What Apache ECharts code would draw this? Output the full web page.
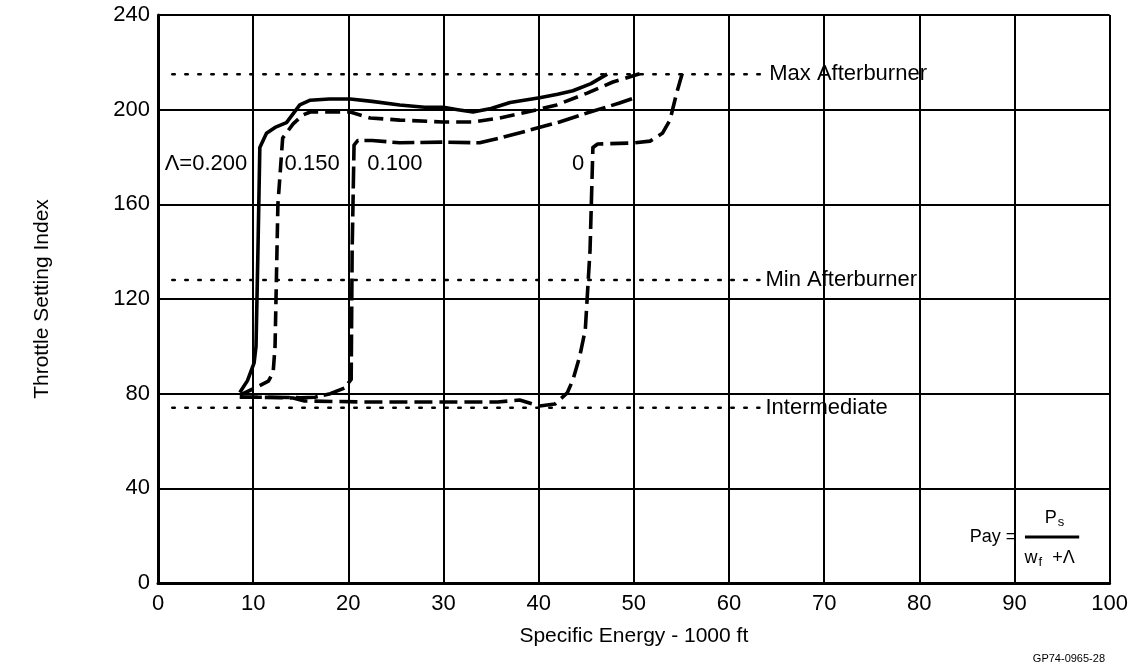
<!DOCTYPE html>
<html><head><meta charset="utf-8">
<script src="https://cdn.jsdelivr.net/npm/echarts@6/dist/echarts.min.js"></script>
<style>html,body{margin:0;padding:0;background:#fff}#c{width:1131px;height:666px}</style>
</head><body><div id="c"></div>
<script>
// ---- data ----
const xTickMin = 0, xTickMax = 100, xTickStep = 10;
const yTickMin = 0, yTickMax = 240, yTickStep = 40;

const lam200X = [8.6, 9.4, 10.1, 10.3, 10.5, 10.7, 11.4, 12.3, 13.5, 14.9, 16.0, 18.0, 20.2, 22.5, 25.4, 28.0, 30.0, 31.5, 33.1, 35.0, 37.0, 40.1, 42.0, 43.6, 45.5, 47.2];
const lam200Y = [80.5, 85.5, 93, 100, 140, 184, 190, 192.5, 194.5, 202, 204, 204.5, 204.5, 203.5, 202, 201, 201, 200, 199, 200.5, 203, 205, 206.5, 208, 211, 215];

const lam150X = [8.6, 10.2, 11.6, 12.1, 12.3, 12.6, 13.1, 14.2, 15.2, 16.0, 18.0, 20.2, 22.3, 25.4, 29.9, 33.1, 35.9, 38.8, 41.9, 45.1, 47.8, 50.9];
const lam150Y = [79.4, 82.4, 85.3, 89, 100, 160, 188, 194, 197.7, 199, 199, 199, 196.5, 195.6, 194.8, 194.8, 196.5, 199, 202, 207, 211.7, 215.5];

const lam100X = [8.6, 12.0, 15.0, 16.5, 18.1, 19.6, 20.3, 20.4, 20.6, 21.0, 22.5, 25.4, 29.9, 33.8, 35.9, 39.1, 42.2, 45.4, 48.5, 50.3];
const lam100Y = [78.5, 78.5, 78.3, 78.5, 80, 82.4, 86, 140, 185, 187, 187, 186, 186.3, 186, 188, 191.4, 194.8, 199, 202.8, 205.3];

const lam0X = [8.6, 14.2, 15.4, 21.5, 30.7, 35.7, 38.0, 40.1, 41.7, 43.0, 43.6, 44.3, 44.9, 45.4, 45.7, 46.2, 49.9, 51.7, 53.0, 53.8, 54.5, 55.1];
const lam0Y = [78.6, 78.2, 76.9, 76.5, 76.5, 76.5, 77.3, 74.8, 75.6, 80.3, 85.8, 95.5, 107, 140.7, 184, 185.5, 185.9, 186.7, 190, 195.6, 207, 215.5];

const refNames = ['Max Afterburner', 'Min Afterburner', 'Intermediate'];
const refY = [215, 128, 74];
const refXStart = [1.5, 1.5, 1.5];
const refXEnd = [63.6, 63.2, 63.2];

const curveLabels = ['\u039B=0.200', '0.150', '0.100', '0'];
const curveLabelX = [0.7, 13.3, 22.0, 43.5];
const curveLabelY = [177, 177, 177, 177];

const formulaLeft = 'Pay =';
const formulaLeftX = 90.4, formulaLeftY = 19.4;
const fracX = [91.1, 96.8];
const fracY = 19.4;
const numerX = 94.2, numerY = 27.5;
const denomX = 93.7, denomY = 10.5;

const xName = 'Specific Energy - 1000 ft';
const yName = 'Throttle Setting Index';
const figId = 'GP74-0965-28';

// ---- chart ----
const zip = (a, b) => a.map((v, i) => [v, b[i]]);
const FONT = '"Liberation Sans", Arial, sans-serif';
const chart = echarts.init(document.getElementById('c'), null, {renderer: 'canvas'});

const curveStyle = (type) => ({color: '#000', width: 3.6, type: type, cap: 'butt', join: 'round'});

const series = [
  {type: 'line', data: zip(lam200X, lam200Y), symbol: 'none', lineStyle: curveStyle('solid'), z: 5, silent: true},
  {type: 'line', data: zip(lam150X, lam150Y), symbol: 'none', lineStyle: curveStyle([15, 7]), z: 5, silent: true},
  {type: 'line', data: zip(lam100X, lam100Y), symbol: 'none', lineStyle: curveStyle([22, 6]), z: 5, silent: true},
  {type: 'line', data: zip(lam0X, lam0Y), symbol: 'none', lineStyle: curveStyle([18, 7]), z: 5, silent: true}
];

refNames.forEach((n, i) => {
  series.push({
    type: 'line', name: n, data: [[refXStart[i], refY[i]], [refXEnd[i], refY[i]]], symbol: 'none', silent: true,
    lineStyle: {color: '#000', width: 2.5, type: [2.5, 10.5], cap: 'round'},
    endLabel: {show: true, formatter: n, distance: 6, fontFamily: FONT, fontSize: 22, color: '#000', opacity: 1}
  });
});

series.push({
  type: 'scatter', symbolSize: 0, silent: true,
  itemStyle: {opacity: 1, color: '#000'},
  data: curveLabels.map((t, i) => ({value: [curveLabelX[i], curveLabelY[i]], name: t})),
  label: {show: true, position: 'right', distance: 0, formatter: p => p.name, fontFamily: FONT, fontSize: 22, color: '#000', opacity: 1}
});

// formula
series.push({
  type: 'line', data: [[fracX[0], fracY], [fracX[1], fracY]], symbol: 'none', silent: true,
  lineStyle: {color: '#000', width: 3}
});
series.push({
  type: 'scatter', symbolSize: 0, silent: true,
  itemStyle: {opacity: 1, color: '#000'},
  data: [
    {value: [formulaLeftX, formulaLeftY], name: 'L', label: {position: 'left', formatter: formulaLeft}},
    {value: [numerX, numerY], name: 'N', label: {position: 'inside', formatter: '{p|P}{s|s}'}},
    {value: [denomX, denomY], name: 'D', label: {position: 'inside', formatter: '{p|w}{s|f}{p|  +\u039B}'}}
  ],
  label: {show: true, distance: 2, fontFamily: FONT, fontSize: 18, color: '#000', opacity: 1,
    rich: {
      p: {fontFamily: FONT, fontSize: 18, color: '#000', lineHeight: 22},
      s: {fontFamily: FONT, fontSize: 13, color: '#000', lineHeight: 22, verticalAlign: 'bottom', padding: [8, 0, 0, 1]}
    }
  }
});

chart.setOption({
  animation: false,
  backgroundColor: '#fff',
  grid: {left: 158, right: 21, top: 15, bottom: 83, containLabel: false},
  xAxis: {
    type: 'value', min: xTickMin, max: xTickMax, interval: xTickStep,
    name: xName, nameLocation: 'middle', nameGap: 43,
    nameTextStyle: {fontFamily: FONT, fontSize: 21, color: '#000'},
    axisLine: {show: true, onZero: false, lineStyle: {color: '#000', width: 3}},
    axisTick: {show: false},
    axisLabel: {fontFamily: FONT, fontSize: 22, color: '#000', margin: 10},
    splitLine: {show: true, lineStyle: {color: '#000', width: 2}}
  },
  yAxis: {
    type: 'value', min: yTickMin, max: yTickMax, interval: yTickStep,
    name: yName, nameLocation: 'middle', nameGap: 105,
    nameTextStyle: {fontFamily: FONT, fontSize: 21, color: '#000'},
    axisLine: {show: true, onZero: false, lineStyle: {color: '#000', width: 3}},
    axisTick: {show: false},
    axisLabel: {fontFamily: FONT, fontSize: 22, color: '#000', margin: 8},
    splitLine: {show: true, lineStyle: {color: '#000', width: 2}}
  },
  graphic: [
    {type: 'text', right: 26, bottom: 2, style: {text: figId, fontFamily: FONT, fontSize: 11, fill: '#000'}}
  ],
  series: series
});
</script></body></html>
